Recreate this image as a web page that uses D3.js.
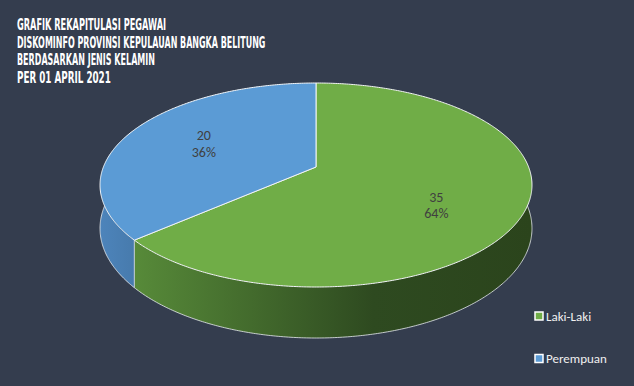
<!DOCTYPE html>
<html>
<head>
<meta charset="utf-8">
<script src="https://cdn.jsdelivr.net/npm/d3@7"></script>
<style>
  body { margin: 0; background: #343d4e; }
  svg { display: block; }
</style>
</head>
<body>
<div class="chart"></div>
<script>
// data
const categories = ['Laki-Laki', 'Perempuan'];
const values = [35, 20];
const titleLines = [
  'GRAFIK REKAPITULASI PEGAWAI',
  'DISKOMINFO PROVINSI KEPULAUAN BANGKA BELITUNG',
  'BERDASARKAN JENIS KELAMIN',
  'PER 01 APRIL 2021'
];

const width = 634, height = 386;
const topColors = ['#70ad47', '#5b9bd5'];

const svg = d3.select('.chart').append('svg')
  .attr('width', width)
  .attr('height', height);

svg.append('rect').attr('width', width).attr('height', height).attr('fill', '#343d4e');

// gradients for the side walls
const defs = svg.append('defs');
const gGreen = defs.append('linearGradient').attr('id', 'sideGreen')
  .attr('gradientUnits', 'userSpaceOnUse').attr('x1', 135).attr('x2', 532).attr('y1', 0).attr('y2', 0);
gGreen.append('stop').attr('offset', 0).attr('stop-color', '#578a39');
gGreen.append('stop').attr('offset', 0.6).attr('stop-color', '#2e4a20');
gGreen.append('stop').attr('offset', 1).attr('stop-color', '#2b441c');
const gBlue = defs.append('linearGradient').attr('id', 'sideBlue')
  .attr('gradientUnits', 'userSpaceOnUse').attr('x1', 100).attr('x2', 140).attr('y1', 0).attr('y2', 0);
gBlue.append('stop').attr('offset', 0).attr('stop-color', '#4d84bb');
gBlue.append('stop').attr('offset', 1).attr('stop-color', '#4679aa');
const sideFills = ['url(#sideGreen)', 'url(#sideBlue)'];

// perspective projection of the pie's top disc
const cx = 316, R = 212.6, persp = -0.1765, ya = 69.35, yb = 167, depth = 42;
function proj(u, v) {
  const w = 1 + persp * v;
  return [cx + R * u / w, (ya * v + yb) / w, depth / w];
}
function pt(theta, k) {
  return proj(k * Math.sin(theta), -k * Math.cos(theta));
}

const pie = d3.pie().sort(null).value(d => d)(values);
const total = d3.sum(values);

function arcPoints(a0, a1) {
  const n = Math.max(2, Math.ceil((a1 - a0) / 0.01));
  return d3.range(n + 1).map(i => pt(a0 + (a1 - a0) * i / n, 1));
}

// side walls
pie.forEach((s, i) => {
  const p = arcPoints(s.startAngle, s.endAngle);
  const poly = p.map(q => [q[0], q[1]]).concat(p.slice().reverse().map(q => [q[0], q[1] + q[2]]));
  svg.append('path')
    .attr('d', 'M' + poly.map(q => q.join(',')).join('L') + 'Z')
    .attr('fill', sideFills[i])
    .attr('stroke', 'none');
  svg.append('path')
    .attr('d', 'M' + p.map(q => q[0] + ',' + (q[1] + q[2])).join('L'))
    .attr('fill', 'none')
    .attr('stroke', '#e8ecf0')
    .attr('stroke-width', 0.8);
});
// vertical edge where the slices meet on the wall
pie.forEach(s => {
  const q = pt(s.startAngle, 1);
  if (q[1] > yb) {
    svg.append('line').attr('x1', q[0]).attr('y1', q[1]).attr('x2', q[0]).attr('y2', q[1] + q[2])
      .attr('stroke', '#e8ecf0').attr('stroke-width', 0.8);
  }
});

// top faces
const c0 = proj(0, 0);
pie.forEach((s, i) => {
  const p = arcPoints(s.startAngle, s.endAngle);
  svg.append('path')
    .attr('d', 'M' + c0[0] + ',' + c0[1] + 'L' + p.map(q => q[0] + ',' + q[1]).join('L') + 'Z')
    .attr('fill', topColors[i])
    .attr('stroke', '#f2f4f6')
    .attr('stroke-width', 1)
    .attr('stroke-linejoin', 'round');
});

// data labels
pie.forEach((s, i) => {
  const mid = (s.startAngle + s.endAngle) / 2;
  const q = pt(mid, 0.6);
  const shift = q[1] > yb ? 12 : 0;
  const g = svg.append('g').attr('transform', `translate(${q[0] - 1},${q[1] + shift})`)
    .attr('font-family', 'Carlito, "Liberation Sans", sans-serif')
    .attr('font-size', 14)
    .attr('fill', '#404040')
    .attr('text-anchor', 'middle');
  g.append('text').attr('y', -3).text(values[i]);
  g.append('text').attr('y', 13.5).text(d3.format('.0%')(values[i] / total));
});

// title
svg.append('g')
  .attr('font-family', '"Liberation Sans Narrow", "DejaVu Sans Condensed", sans-serif')
  .attr('font-weight', 'bold')
  .attr('font-size', 15.5)
  .attr('fill', '#ffffff')
  .selectAll('text').data(titleLines).join('text')
  .attr('x', 17)
  .attr('y', (d, i) => 30 + i * 17.6)
  .attr('textLength', d => d.length * 5.52)
  .attr('lengthAdjust', 'spacingAndGlyphs')
  .text(d => d);

// legend
const legend = svg.append('g')
  .selectAll('g').data(categories).join('g')
  .attr('transform', (d, i) => `translate(535,${312 + i * 42.5})`);
legend.append('rect')
  .attr('width', 8).attr('height', 8)
  .attr('fill', (d, i) => topColors[i])
  .attr('stroke', '#ffffff').attr('stroke-width', 1.5);
legend.append('text')
  .attr('x', 11).attr('y', 8.8)
  .attr('font-family', 'Carlito, "Liberation Sans", sans-serif')
  .attr('font-size', 13)
  .attr('fill', '#f0f0f0')
  .text(d => d);
</script>
</body>
</html>
